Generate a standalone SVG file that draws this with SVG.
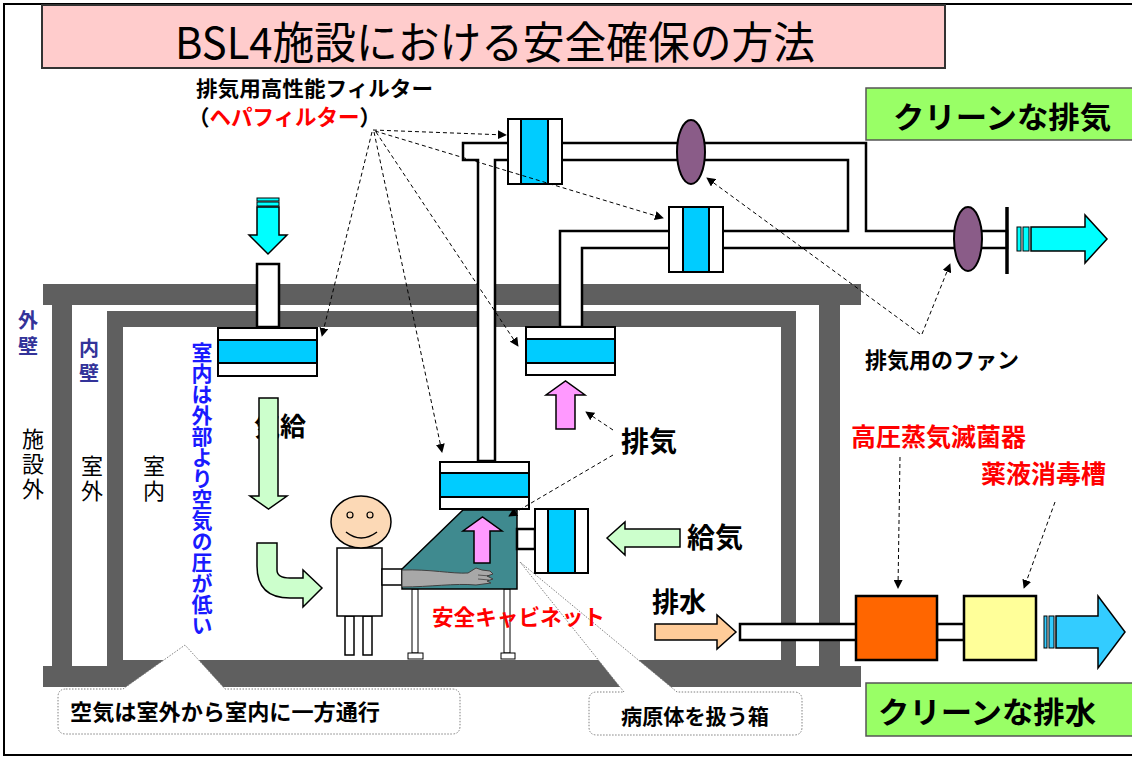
<svg xmlns="http://www.w3.org/2000/svg" width="1132" height="758" viewBox="0 0 1132 758">
  <style>
    .t { font-family: "Noto Sans CJK JP", "Noto Sans", sans-serif; }
    .b { font-weight: bold; }
    .red { fill: #ff0000; }
    .wall { fill: #5f5f5f; }
    .pipe { fill: #ffffff; stroke: #000; stroke-width: 2.5; stroke-linejoin: miter; }
    .fw { fill: #ffffff; stroke: #000; stroke-width: 2; }
    .fc { fill: #00ccff; stroke: #000; stroke-width: 2; }
    .fan { fill: #8a5c88; stroke: #000; stroke-width: 2; }
    .arr { stroke: #000; stroke-width: 1.5; stroke-linejoin: miter; }
    .dash { fill: none; stroke: #000; stroke-width: 1; stroke-dasharray: 4 3; marker-end: url(#ah); }
    .callout { fill: #ffffff; stroke: #808080; stroke-width: 1; stroke-dasharray: 1.5 1.5; }
    .vert { writing-mode: vertical-rl; }
  </style>
  <defs>
    <marker id="ah" viewBox="0 0 10 10" refX="9" refY="5" markerWidth="9" markerHeight="9" markerUnits="userSpaceOnUse" orient="auto">
      <path d="M0,0 L10,5 L0,10 Z" fill="#000"/>
    </marker>
  </defs>

  <rect x="0" y="0" width="1132" height="758" fill="#ffffff"/>
  <!-- page frame -->
  <rect x="4" y="4" width="1140" height="751" fill="none" stroke="#000" stroke-width="2"/>

  <!-- title -->
  <g id="title">
    <rect x="42" y="5" width="903" height="63" fill="#ffcccc" stroke="#333" stroke-width="2"/>
    <text class="t" x="175" y="59" font-size="44" textLength="640" lengthAdjust="spacingAndGlyphs">BSL4施設における安全確保の方法</text>
  </g>

  <!-- building walls -->
  <g id="walls">
    <rect class="wall" x="43" y="284" width="818" height="21"/>
    <rect class="wall" x="52" y="305" width="20" height="382"/>
    <rect class="wall" x="819" y="305" width="21" height="382"/>
    <rect class="wall" x="43" y="666" width="818" height="21"/>
    <rect class="wall" x="107" y="311" width="689" height="16"/>
    <rect class="wall" x="107" y="327" width="16" height="360"/>
    <rect class="wall" x="781" y="327" width="15" height="360"/>
    <rect class="wall" x="107" y="660" width="689" height="27"/>
  </g>

  <!-- callouts -->
  <g id="callout-air">
    <path class="callout" d="M66,689 L123,689 L185,645 L225,689 L452,689 Q460,689 460,697 L460,726 Q460,734 452,734 L66,734 Q58,734 58,726 L58,697 Q58,689 66,689 Z"/>
    <text class="t b" x="70" y="720" font-size="22" textLength="310" lengthAdjust="spacingAndGlyphs">空気は室外から室内に一方通行</text>
  </g>
  <g id="callout-box">
    <path class="callout" d="M597,692 L624,692 L520,562 L677,692 L794,692 Q802,692 802,700 L802,727 Q802,735 794,735 L597,735 Q589,735 589,727 L589,700 Q589,692 597,692 Z"/>
    <text class="t b" x="621" y="724" font-size="21" textLength="148" lengthAdjust="spacingAndGlyphs">病原体を扱う箱</text>
  </g>

  <!-- exhaust duct network -->
  <g id="exhaust-duct">
    <path class="pipe" d="M463,143 L866,143 L866,231 L1007,231 L1007,248 L582,248 L582,327 L560,327 L560,231 L848,231 L848,160 L495,160 L495,461 L478,461 L478,160 L463,160 Z"/>
    <line x1="1007" y1="207" x2="1007" y2="274" stroke="#000" stroke-width="3.5"/>
  </g>

  <!-- supply duct -->
  <g id="supply-duct">
    <rect class="pipe" x="257" y="264" width="22" height="63"/>
  </g>

  <!-- HEPA filters -->
  <g id="filter-top">
    <rect class="fw" x="508" y="119" width="54" height="65"/>
    <rect class="fc" x="521" y="119" width="27" height="65"/>
  </g>
  <g id="filter-mid">
    <rect class="fw" x="669" y="207" width="54" height="65"/>
    <rect class="fc" x="683" y="207" width="26" height="65"/>
  </g>
  <g id="filter-supply">
    <rect class="fw" x="218" y="328" width="99" height="48"/>
    <rect class="fc" x="218" y="340" width="99" height="23"/>
  </g>
  <g id="filter-room-exhaust">
    <rect class="fw" x="526" y="327" width="89" height="48"/>
    <rect class="fc" x="526" y="339" width="89" height="24"/>
  </g>

  <!-- fans -->
  <g id="fan-1"><ellipse class="fan" cx="691" cy="152" rx="14" ry="32"/></g>
  <g id="fan-2"><ellipse class="fan" cx="968" cy="239" rx="14" ry="32"/></g>

  <!-- outflow of clean air -->
  <g id="arrow-clean-air">
    <rect x="1017" y="227" width="4" height="24" fill="#00ffff" stroke="#000" stroke-width="1"/>
    <rect x="1023" y="227" width="6" height="24" fill="#00ffff" stroke="#000" stroke-width="1"/>
    <polygon class="arr" fill="#00ffff" points="1031,227 1085,227 1085,215 1107,239 1085,263 1085,251 1031,251"/>
  </g>

  <!-- inflow of supply air -->
  <g id="arrow-supply-in">
    <rect x="257" y="198" width="22" height="3" fill="#00ffff" stroke="#000" stroke-width="1"/>
    <rect x="257" y="202" width="22" height="4" fill="#00ffff" stroke="#000" stroke-width="1"/>
    <polygon class="arr" fill="#00ffff" points="257,207 279,207 279,235 287,235 268,254 249,235 257,235"/>
  </g>

  <!-- room airflow -->
  <g id="label-supply-room">
    <text class="t b" x="254" y="436" font-size="26">気給</text>
    <polygon class="arr" fill="#ccffcc" points="259,398 278,398 278,496 287,496 268.5,509 250,496 259,496"/>
  </g>
  <g id="arrow-bent">
    <path class="arr" fill="#ccffcc" d="M257,543 L277,543 L277,570 Q277,578 290,578 L303,578 L303,570 L322,588 L303,607 L303,598 L290,598 Q257,598 257,566 Z"/>
  </g>
  <g id="arrow-room-exhaust">
    <polygon class="arr" fill="#ff99ff" points="556,429 556,395 546,395 565.5,381 585,395 575,395 575,429"/>
  </g>

  <!-- worker -->
  <g id="worker">
    <rect x="345" y="616" width="9" height="39" fill="#fff" stroke="#000" stroke-width="1.5"/>
    <rect x="363" y="616" width="9" height="39" fill="#fff" stroke="#000" stroke-width="1.5"/>
    <rect x="337" y="548" width="45" height="68" fill="#fff" stroke="#000" stroke-width="1.5"/>
    <rect x="382" y="569" width="20" height="16" fill="#fff" stroke="#000" stroke-width="1.5"/>
    <ellipse cx="361" cy="522" rx="30" ry="26" fill="#fcd9b6" stroke="#000" stroke-width="1.5"/>
    <circle cx="350" cy="515" r="3" fill="none" stroke="#000" stroke-width="1.2"/>
    <circle cx="370" cy="515" r="3" fill="none" stroke="#000" stroke-width="1.2"/>
    <path d="M346,532 Q361,544 377,532" fill="none" stroke="#000" stroke-width="1.5"/>
  </g>

  <!-- safety cabinet -->
  <g id="cabinet">
    <rect x="412" y="589" width="6" height="64" fill="#fff" stroke="#000" stroke-width="1"/>
    <rect x="408" y="653" width="15" height="6" fill="#fff" stroke="#000" stroke-width="1"/>
    <rect x="504" y="589" width="6" height="64" fill="#fff" stroke="#000" stroke-width="1"/>
    <rect x="501" y="653" width="14" height="6" fill="#fff" stroke="#000" stroke-width="1"/>
    <polygon points="463,510 517,510 517,589 402,589 402,569" fill="#3f8a8f" stroke="#000" stroke-width="1.5"/>
    <path d="M402,570 C430,569 452,574 468,573 L476,568 L482,570 L490,571 L493,574 L487,576 L493,579 L487,581 L491,583 L476,585 C455,583 430,587 402,587 Z" fill="#a8a8a8" stroke="#404040" stroke-width="1"/>
    <path d="M478,575 L490,576 M478,579 L489,580" stroke="#404040" stroke-width="0.8" fill="none"/>
    <polygon class="arr" fill="#ff99ff" points="474,563 474,531 463,531 482.5,517 502,531 490,531 490,563"/>
    <rect class="pipe" x="517" y="529" width="18" height="20" stroke-width="2"/>
  </g>
  <g id="filter-cabinet-top">
    <rect class="fw" x="440" y="462" width="89" height="47"/>
    <rect class="fc" x="440" y="473" width="89" height="24"/>
  </g>
  <g id="filter-cabinet-side">
    <rect class="fw" x="535" y="509" width="53" height="64"/>
    <rect class="fc" x="548" y="509" width="27" height="64"/>
  </g>

  <!-- supply into cabinet -->
  <g id="arrow-cabinet-supply">
    <polygon class="arr" fill="#ccffcc" points="607,538 625,522 625,529 680,529 680,547 625,547 625,555"/>
  </g>

  <!-- drainage line -->
  <g id="drain">
    <polygon class="arr" fill="#ffcc99" points="655,624 717,624 717,615 736,632 717,649 717,640 655,640"/>
    <rect class="pipe" x="740" y="624" width="117" height="16" stroke-width="2"/>
    <rect class="pipe" x="937" y="624" width="27" height="16" stroke-width="2"/>
  </g>
  <g id="autoclave"><rect x="856" y="596" width="81" height="64" fill="#ff6600" stroke="#000" stroke-width="2.5"/></g>
  <g id="chem-tank"><rect x="964" y="596" width="72" height="64" fill="#ffff99" stroke="#000" stroke-width="2.5"/></g>
  <g id="arrow-clean-water">
    <rect x="1044" y="616" width="3" height="32" fill="#33ccff" stroke="#000" stroke-width="1"/>
    <rect x="1049" y="616" width="5" height="32" fill="#33ccff" stroke="#000" stroke-width="1"/>
    <polygon class="arr" fill="#33ccff" points="1056,616 1098,616 1098,596 1125,632 1098,668 1098,648 1056,648"/>
  </g>

  <!-- result labels -->
  <g id="label-clean-air">
    <rect x="866" y="88" width="270" height="52" fill="#99ff66" stroke="#555" stroke-width="1.5"/>
    <text class="t b" x="893" y="128" font-size="30" textLength="218" lengthAdjust="spacingAndGlyphs">クリーンな排気</text>
  </g>
  <g id="label-clean-water">
    <rect x="866" y="683" width="270" height="53" fill="#99ff66" stroke="#555" stroke-width="1.5"/>
    <text class="t b" x="878" y="723" font-size="30" textLength="218" lengthAdjust="spacingAndGlyphs">クリーンな排水</text>
  </g>

  <!-- text labels -->
  <g id="labels">
    <text class="t b" x="196" y="96" font-size="21" textLength="237" lengthAdjust="spacingAndGlyphs">排気用高性能フィルター</text>
    <text class="t b" x="188" y="125" font-size="21.5">（<tspan class="red">ヘパフィルター</tspan>）</text>
    <text class="t b" x="865" y="368" font-size="22">排気用のファン</text>
    <text class="t b" x="621" y="452" font-size="28">排気</text>
    <text class="t b" x="687" y="548" font-size="28">給気</text>
    <text class="t b" x="652" y="612" font-size="27">排水</text>
    <text class="t b red" x="432" y="625" font-size="21.5" textLength="173" lengthAdjust="spacingAndGlyphs">安全キャビネット</text>
    <text class="t b red" x="851" y="446" font-size="25">高圧蒸気滅菌器</text>
    <text class="t b red" x="981" y="483" font-size="25">薬液消毒槽</text>
    <text class="t b vert" x="202" y="342" font-size="21" fill="#1a1aff">室内は外部より空気の圧が低い</text>
    <text class="t b vert" x="28" y="310" font-size="20" fill="#333399" letter-spacing="6">外壁</text>
    <text class="t b vert" x="89" y="338" font-size="20" fill="#333399" letter-spacing="5">内壁</text>
    <text class="t vert" x="33" y="428" font-size="22" letter-spacing="3">施設外</text>
    <text class="t vert" x="92" y="455" font-size="22" letter-spacing="3">室外</text>
    <text class="t vert" x="154" y="455" font-size="22" letter-spacing="3">室内</text>
  </g>

  <!-- leader lines -->
  <g id="connectors">
    <line class="dash" x1="373" y1="130" x2="506" y2="135"/>
    <line class="dash" x1="375" y1="131" x2="663" y2="218"/>
    <line class="dash" x1="372" y1="132" x2="322" y2="336"/>
    <line class="dash" x1="374" y1="132" x2="442" y2="452"/>
    <line class="dash" x1="376" y1="132" x2="518" y2="346"/>
    <line class="dash" x1="920" y1="334" x2="707" y2="178"/>
    <line class="dash" x1="922" y1="334" x2="950" y2="264"/>
    <line class="dash" x1="613" y1="430" x2="586" y2="412"/>
    <line class="dash" x1="613" y1="455" x2="509" y2="516"/>
    <line class="dash" x1="900" y1="457" x2="898" y2="588"/>
    <line class="dash" x1="1055" y1="502" x2="1024" y2="588"/>
  </g>
</svg>
